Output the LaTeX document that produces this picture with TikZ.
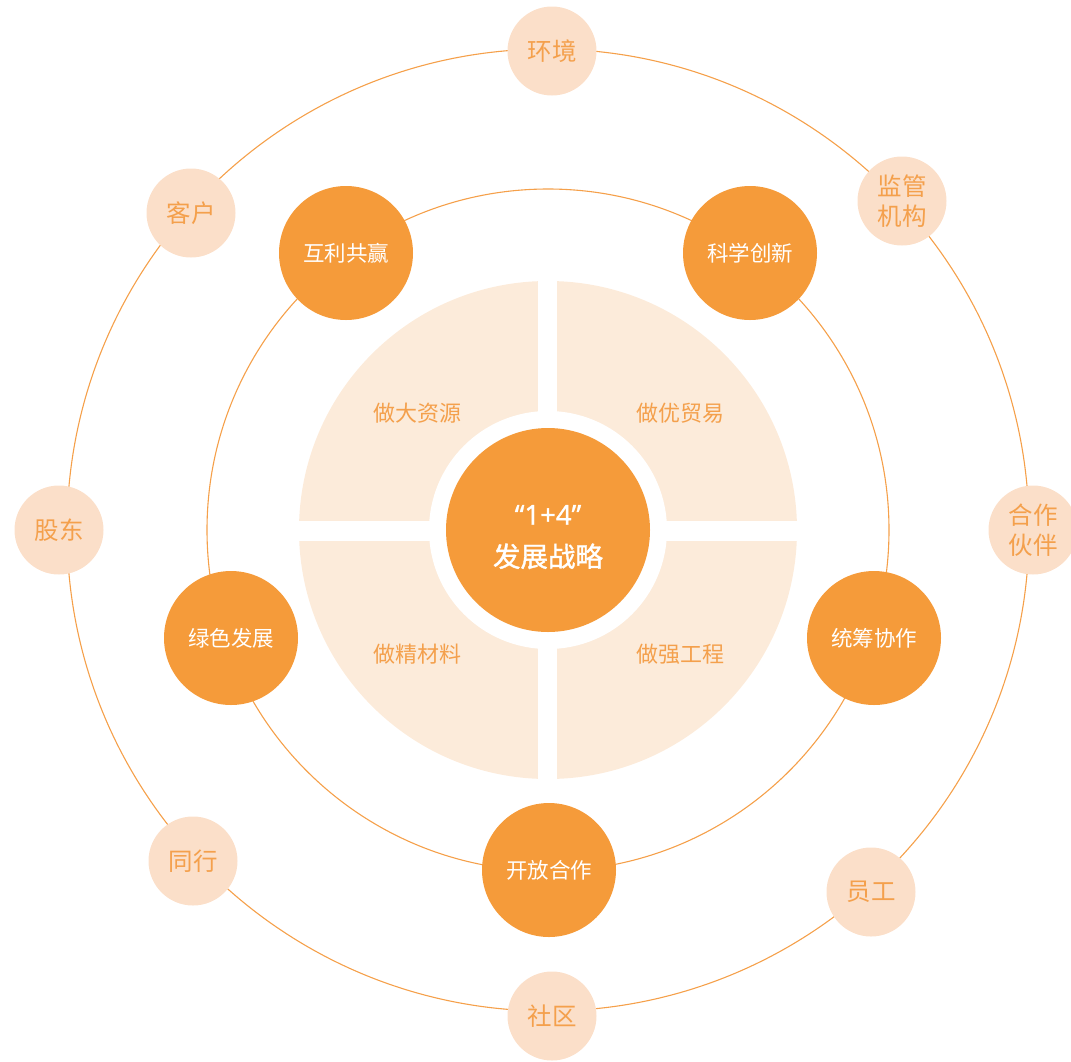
\documentclass[tikz,border=0pt]{standalone}
\usepackage{fontspec}
\newfontfamily\cjk{Noto Sans CJK SC}
\newfontfamily\cjkc[FakeBold=1.3]{Noto Sans CJK SC}
\newfontfamily\lat[FakeBold=1.3]{Open Sans}
\definecolor{org}{HTML}{F59B3A}
\definecolor{peach}{HTML}{FBDFC9}
\definecolor{pale}{HTML}{FCEBDA}
\definecolor{ltxt}{HTML}{F4A04C}
\definecolor{ringc}{HTML}{F5A04A}
\tikzset{
  ringline/.style={draw=ringc, line width=1.1pt},
  orgnode/.style={circle, fill=org, minimum size=134pt, inner sep=0pt, text=white, font=\cjk\fontsize{21.5}{25}\selectfont},
  peachnode/.style={circle, fill=peach, minimum size=89pt, inner sep=0pt, text=ltxt, align=center, font=\cjk\fontsize{24.5}{30}\selectfont},
  quartertext/.style={text=ltxt, font=\cjk\fontsize{22}{26}\selectfont},
  corenode/.style={circle, fill=org, minimum size=204pt, inner sep=0pt},
  coretext/.style={text=white, align=center, font=\cjkc\fontsize{27.5}{42}\selectfont}
}
\begin{document}
\begin{tikzpicture}[x=1pt,y=-1pt]
\useasboundingbox (0,0) rectangle (1071,1061);
\coordinate (c) at (548,530);
\draw[ringline] (c) circle[radius=481pt];
\draw[ringline] (c) circle[radius=341pt];
\fill[pale] (c) circle[radius=249pt];
\fill[white] (537.5,270) rectangle (556.5,790);
\fill[white] (290,521) rectangle (806,541);
\fill[white] (c) circle[radius=119pt];
\node[corenode] (core) at (c) {};
\node[coretext] (coret) at (548,537) {{\lat “1+4”}\\发展战略};
\node[quartertext] (q1) at (417,413) {做大资源};
\node[quartertext] (q2) at (680,413) {做优贸易};
\node[quartertext] (q3) at (417,654) {做精材料};
\node[quartertext] (q4) at (680,654) {做强工程};
\node[orgnode] (o1) at (346,253) {互利共赢};
\node[orgnode] (o2) at (750,253) {科学创新};
\node[orgnode] (o3) at (231,638) {绿色发展};
\node[orgnode] (o4) at (874,638) {统筹协作};
\node[orgnode] (o5) at (549,870) {开放合作};
\node[peachnode] (p1) at (552,51) {环境};
\node[peachnode] (p2) at (902,201) {监管\\机构};
\node[peachnode] (p3) at (1033,530) {合作\\伙伴};
\node[peachnode] (p4) at (871,892) {员工};
\node[peachnode] (p5) at (552,1016) {社区};
\node[peachnode] (p6) at (193,861) {同行};
\node[peachnode] (p7) at (59,530) {股东};
\node[peachnode] (p8) at (191,213) {客户};
\end{tikzpicture}
\end{document}
